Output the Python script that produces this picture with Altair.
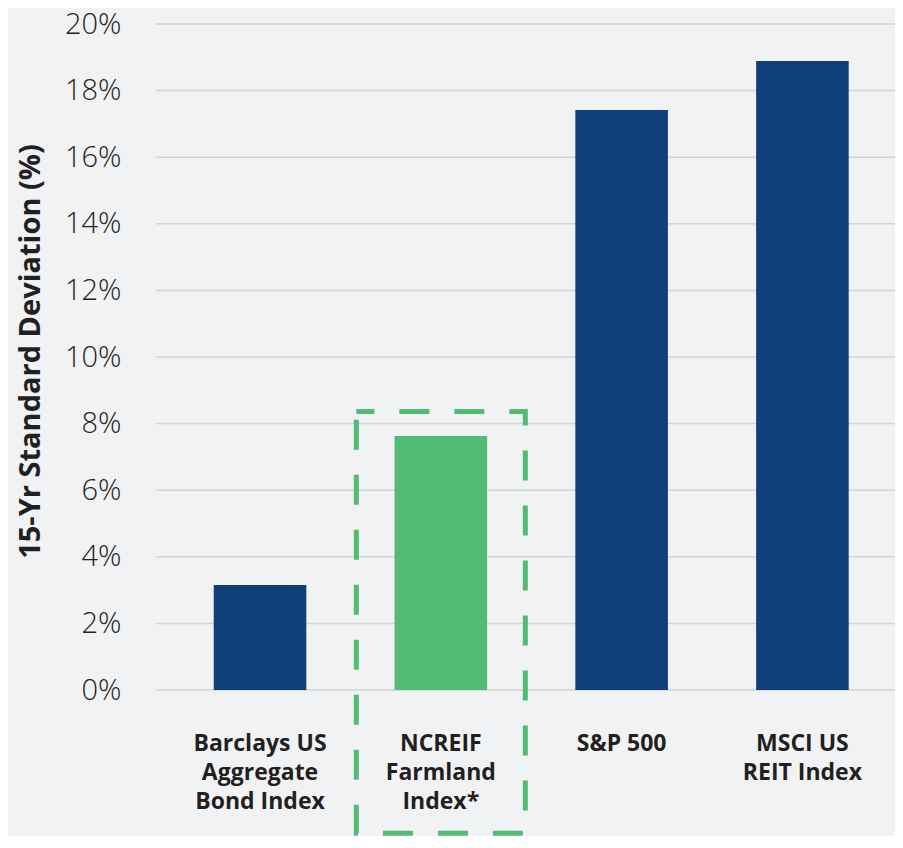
import altair as alt
import pandas as pd

categories = ["Barclays US|Aggregate|Bond Index", "NCREIF|Farmland|Index*", "S&P 500", "MSCI US|REIT Index"]
std_dev = [3.15, 7.63, 17.42, 18.89]
bar_colors = ["#113f7a", "#52bc74", "#113f7a", "#113f7a"]
y_ticks = [0, 2, 4, 6, 8, 10, 12, 14, 16, 18, 20]

highlight_cat = ["NCREIF|Farmland|Index*"]
highlight_top = [8.36]
highlight_bottom = [-4.3]

df = pd.DataFrame({"cat": categories, "val": std_dev, "color": bar_colors})
hl = pd.DataFrame({"cat": highlight_cat, "top": highlight_top, "bottom": highlight_bottom})
grid_df = pd.DataFrame({"tick": y_ticks})

x_scale = alt.Scale(domain=categories, range=[57.75, 692.7], paddingInner=0.488, paddingOuter=0)
y_scale = alt.Scale(domain=[0, 20], nice=False, zero=True)

y_axis = alt.Axis(
    values=y_ticks,
    labelExpr="datum.value + '%'",
    labelFont="Open Sans",
    labelFontWeight=300,
    labelFontSize=29,
    labelColor="#231f20",
    labelPadding=35,
    domain=False,
    ticks=False,
    grid=False,
    title="15-Yr Standard Deviation (%)",
    titleFont="Open Sans",
    titleFontWeight="bold",
    titleFontSize=29,
    titleColor="#231f20",
    titleX=-126,
    titleY=327,
    titleAngle=-90,
    titleBaseline="middle",
    titleAlign="center",
)

x_axis = alt.Axis(
    title=None,
    labelAngle=0,
    labelExpr="split(datum.value, '|')",
    labelFont="Open Sans",
    labelFontWeight="bold",
    labelFontSize=23,
    labelLineHeight=29,
    labelColor="#231f20",
    labelPadding=53,
    labelBaseline="middle",
    domain=False,
    ticks=False,
    grid=False,
)

grid = alt.Chart(grid_df).mark_rule(color="#d2d3d6", strokeWidth=1.5).encode(
    y=alt.Y("tick:Q", scale=y_scale, axis=y_axis),
    x=alt.value(0),
    x2=alt.value(739),
)

bars = alt.Chart(df).mark_bar().encode(
    x=alt.X("cat:N", sort=categories, scale=x_scale, axis=x_axis),
    y=alt.Y("val:Q", scale=y_scale, axis=y_axis),
    color=alt.Color("color:N", scale=None),
)

box = alt.Chart(hl).mark_bar(
    filled=False,
    stroke="#52bc74",
    strokeWidth=5,
    strokeDash=[30, 25],
    strokeDashOffset=12,
    width=169,
    clip=False,
).encode(
    x=alt.X("cat:N", sort=categories, scale=x_scale, axis=x_axis),
    y=alt.Y("top:Q", scale=y_scale, axis=y_axis),
    y2="bottom:Q",
)

chart = (
    alt.layer(grid, bars, box)
    .properties(
        width=739,
        height=666,
        background="#f1f2f4",
        autosize=alt.AutoSizeParams(type="none"),
        padding={"left": 148, "top": 16, "right": 0, "bottom": 146},
    )
    .configure_view(stroke=None)
)

chart.save("out.html", embed_options={"renderer": "svg", "actions": False})
